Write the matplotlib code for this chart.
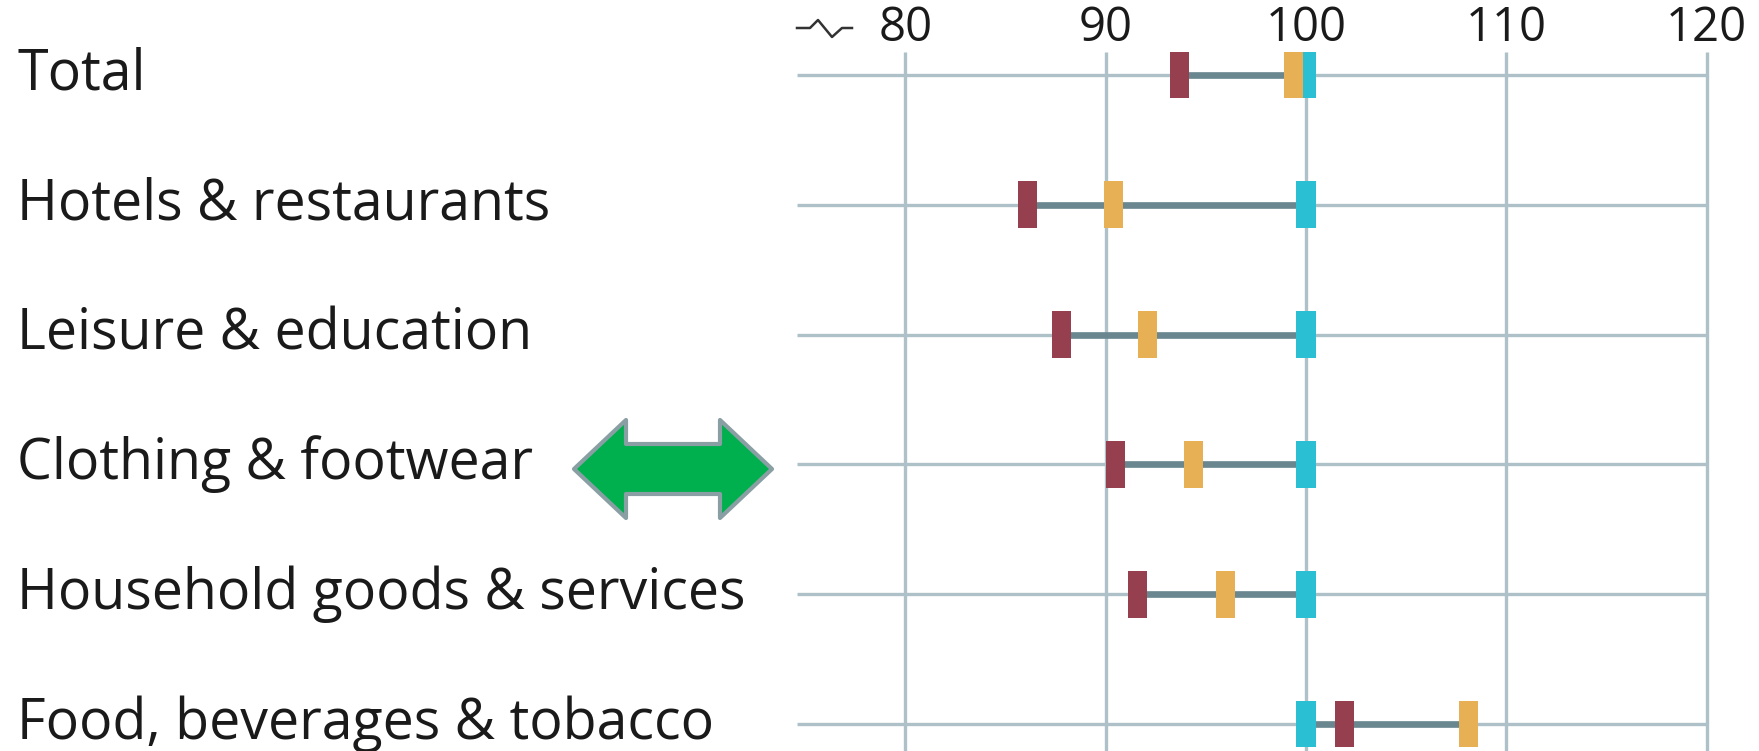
import matplotlib
matplotlib.use("Agg")
import matplotlib.pyplot as plt
from matplotlib.patches import Polygon
from matplotlib.lines import Line2D

categories = ["Total", "Hotels & restaurants", "Leisure & education",
              "Clothing & footwear", "Household goods & services",
              "Food, beverages & tobacco"]
maroon_vals = [93.7, 86.1, 87.8, 90.5, 91.6, 101.9]
orange_vals = [99.4, 90.4, 92.1, 94.4, 96.0, 108.1]
cyan_vals = [100.0, 100.0, 100.0, 100.0, 100.0, 100.0]
xticks = [80, 90, 100, 110, 120]

W, H = 1759, 751
plt.rcParams['font.family'] = ['Open Sans', 'DejaVu Sans']
fig = plt.figure(figsize=(W / 100, H / 100), dpi=100)

# axes placement in pixels
ax_left_px, ax_top_px = 797, 52
ax = fig.add_axes([ax_left_px / W, 0, 1 - ax_left_px / W, (H - ax_top_px) / H])
px_per_unit = 20.03
x100 = 1306
xmin = 100 - (x100 - ax_left_px) / px_per_unit
xmax = 100 + (W - x100) / px_per_unit
row0, rowstep = 75, 129.8
ymin = (ax_top_px - row0) / rowstep
ymax = (H - row0) / rowstep
ax.set_xlim(xmin, xmax)
ax.set_ylim(ymax, ymin)
for s in ax.spines.values():
    s.set_visible(False)

grid_c = "#aec0c8"
n = len(categories)
rows = list(range(n))
ax.vlines(xticks, ymin, ymax, color=grid_c, lw=2.4, zorder=1)
ax.hlines(rows, xmin, xticks[-1], color=grid_c, lw=2.4, zorder=1)

lo = [min(a, b, c) for a, b, c in zip(maroon_vals, orange_vals, cyan_vals)]
hi = [max(a, b, c) for a, b, c in zip(maroon_vals, orange_vals, cyan_vals)]
ax.hlines(rows, lo, hi, color="#6a8790", lw=4.8, zorder=2)

bw, bh = 0.95, 0.362
ax.bar(cyan_vals, bh, width=bw, bottom=[r - bh / 2 for r in rows], color="#2bbfd3", zorder=3)
ax.bar(maroon_vals, bh, width=bw, bottom=[r - bh / 2 for r in rows], color="#96404f", zorder=4)
ax.bar(orange_vals, bh, width=bw, bottom=[r - bh / 2 for r in rows], color="#e8b054", zorder=5)

ax.set_yticks([])
ax.xaxis.tick_top()
ax.set_xticks(xticks)
ax.set_xticklabels([str(t) for t in xticks])
ax.tick_params(axis='x', length=0, pad=0, labelsize=34, labelcolor="#1a1a1a")

# category labels
for r, c in zip(rows, categories):
    ypx = row0 + r * rowstep
    fig.text(17 / W, 1 - ypx / H, c, ha='left', va='center', fontsize=40, color="#1a1a1a")

# axis break symbol
bx = [797, 810, 818, 832, 842, 852]
by = [28, 28, 20, 37, 28, 28]
fig.add_artist(Line2D([x / W for x in bx], [1 - y / H for y in by], color="#333333", lw=1.8))

# green double arrow
pts = [(574, 469), (626, 420), (626, 444), (720, 444), (720, 420), (772, 469),
       (720, 518), (720, 494), (626, 494), (626, 518)]
fig.add_artist(Polygon([(x / W, 1 - y / H) for x, y in pts], closed=True,
                       facecolor="#00b04f", edgecolor="#8a9fa3", lw=3,
                       joinstyle='round', transform=fig.transFigure))

fig.savefig("out.png", dpi=100)
